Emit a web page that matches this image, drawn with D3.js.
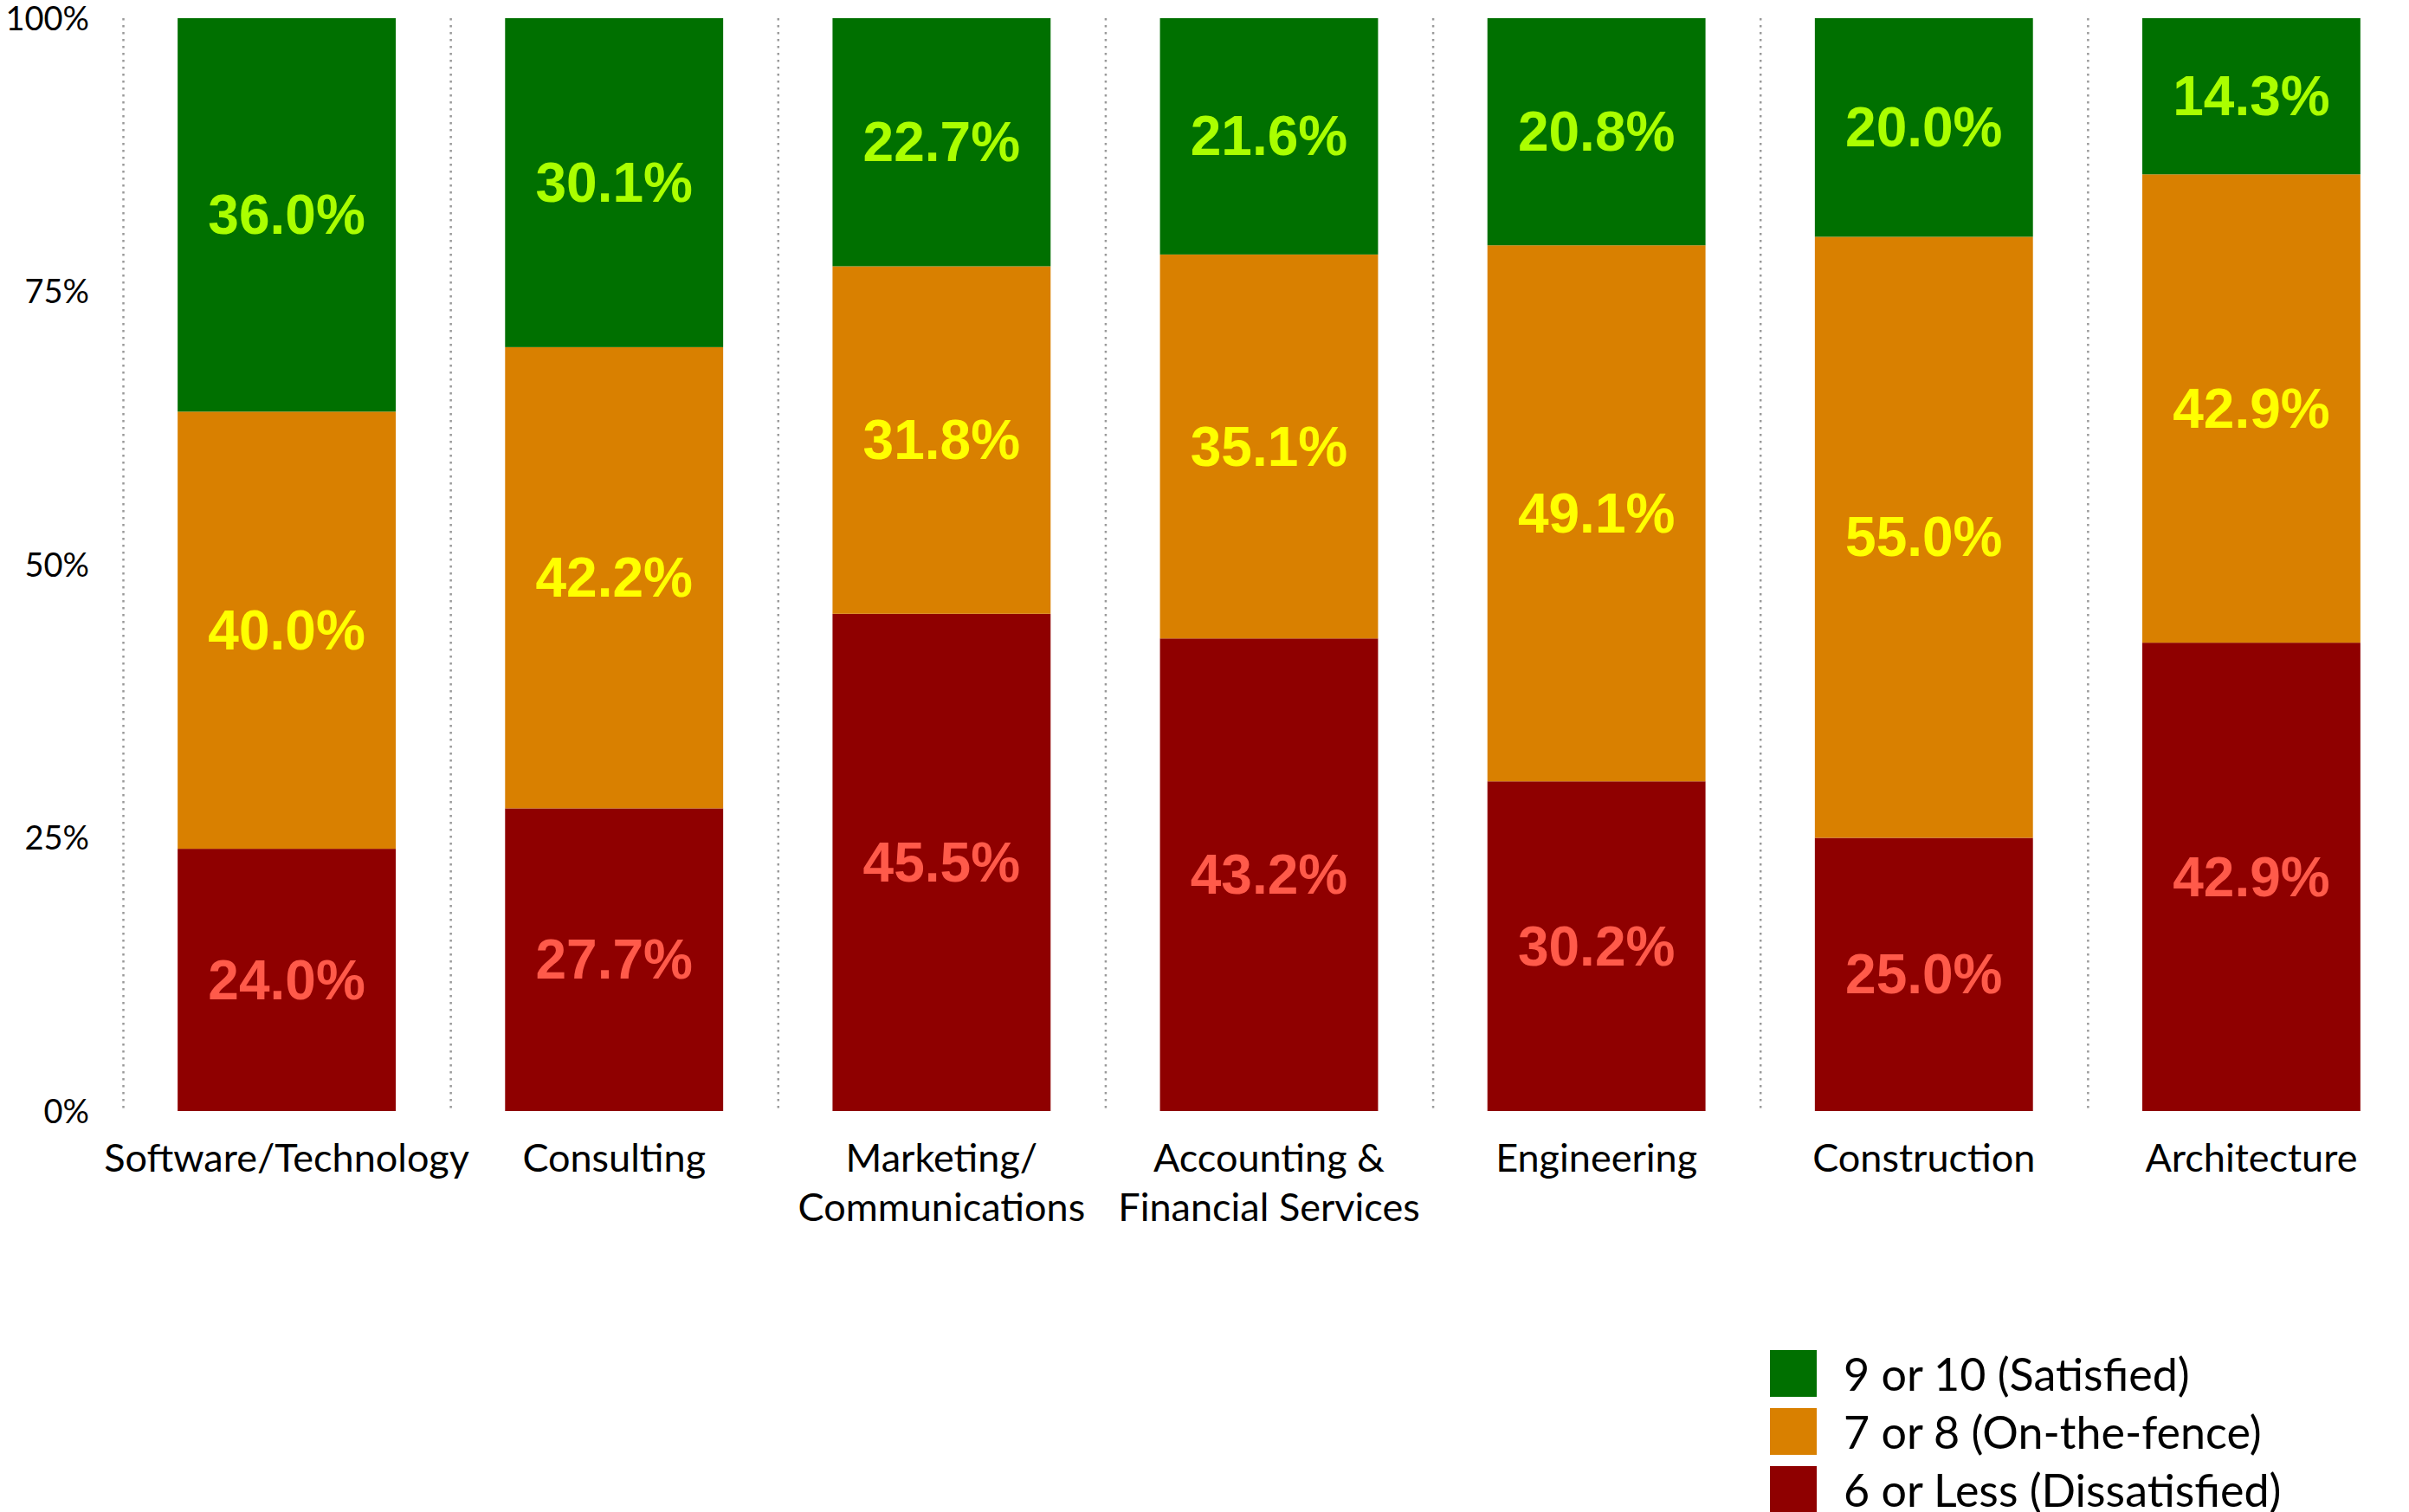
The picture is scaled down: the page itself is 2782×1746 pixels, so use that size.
<!DOCTYPE html>
<html>
<head>
<meta charset="utf-8">
<script src="https://cdn.jsdelivr.net/npm/d3@7"></script>
<style>
  html, body { margin: 0; padding: 0; background: #fff; }
  svg { display: block; }
</style>
</head>
<body>
<svg id="chart" width="2782" height="1746"></svg>
<script>
const categories = [
  ["Software/Technology"],
  ["Consulting"],
  ["Marketing/", "Communications"],
  ["Accounting &", "Financial Services"],
  ["Engineering"],
  ["Construction"],
  ["Architecture"]
];
const seriesNames = ["6 or Less (Dissatisfied)", "7 or 8 (On-the-fence)", "9 or 10 (Satisfied)"];
const dissatisfied = [24.0, 27.7, 45.5, 43.2, 30.2, 25.0, 42.9];
const onTheFence   = [40.0, 42.2, 31.8, 35.1, 49.1, 55.0, 42.9];
const satisfied    = [36.0, 30.1, 22.7, 21.6, 20.8, 20.0, 14.3];
const tickValues = [0, 0.25, 0.5, 0.75, 1];
const tickLabels = ["0%", "25%", "50%", "75%", "100%"];

const barColors = ["#8F0000", "#D98000", "#007000"];
const labelColors = ["#FF5A4A", "#FFFF00", "#AAFF00"];

(function () {
const svg = d3.select("#chart");
const plotTop = 21, plotBottom = 1283;
const plotLeft = 142, plotRight = 2789;

const x = d3.scaleBand()
  .domain(d3.range(categories.length))
  .range([plotLeft, plotRight])
  .paddingInner(0.334)
  .paddingOuter(0.167);
const step = x.step();
const y = d3.scaleLinear().domain([0, 1]).range([plotBottom, plotTop]);

// dotted separators at band starts
svg.append("g").selectAll("line")
  .data(d3.range(categories.length))
  .join("line")
  .attr("x1", i => plotLeft + i * step + 0.5)
  .attr("x2", i => plotLeft + i * step + 0.5)
  .attr("y1", y(1))
  .attr("y2", y(0))
  .attr("stroke", "#9a9a9a")
  .attr("stroke-width", 2.5)
  .attr("stroke-dasharray", "2.5,5.5");

// y axis labels
const yAxis = d3.axisLeft(y).tickValues(tickValues)
  .tickFormat((d, i) => tickLabels[i]).tickSize(0).tickPadding(0);
const ag = svg.append("g").attr("transform", "translate(103,0)").call(yAxis);
ag.select(".domain").remove();
ag.selectAll("text")
  .attr("font-family", "Lato, sans-serif")
  .attr("font-size", 38)
  .attr("fill", "#000")
  .attr("dy", "0.35em");

// stacked data (normalized to each bar's total)
const rows = categories.map((c, i) => [dissatisfied[i], onTheFence[i], satisfied[i]]);
const stacked = d3.stack().keys([0, 1, 2]).offset(d3.stackOffsetExpand)(rows);

const layers = svg.append("g").selectAll("g")
  .data(stacked)
  .join("g")
  .attr("fill", (d, k) => barColors[k]);

layers.selectAll("rect")
  .data(d => d.map((v, i) => ({ v, i })))
  .join("rect")
  .attr("x", d => x(d.i))
  .attr("width", x.bandwidth())
  .attr("y", d => y(d.v[1]))
  .attr("height", d => y(d.v[0]) - y(d.v[1]));

// value labels
const lab = svg.append("g").selectAll("g")
  .data(stacked)
  .join("g")
  .attr("fill", (d, k) => labelColors[k]);

lab.selectAll("text")
  .data((d, k) => d.map((v, i) => ({ v, i, val: rows[i][k] })))
  .join("text")
  .attr("x", d => x(d.i) + x.bandwidth() / 2)
  .attr("y", d => y((d.v[0] + d.v[1]) / 2))
  .attr("text-anchor", "middle")
  .attr("dominant-baseline", "central")
  .attr("font-family", "'Liberation Sans', Arial, sans-serif")
  .attr("font-weight", "bold")
  .attr("font-size", 64)
  .text(d => d.val.toFixed(1) + "%");

// category labels
const cg = svg.append("g").selectAll("text")
  .data(categories)
  .join("text")
  .attr("x", (d, i) => x(i) + x.bandwidth() / 2)
  .attr("y", 1336)
  .attr("text-anchor", "middle")
  .attr("dominant-baseline", "central")
  .attr("font-family", "Lato, sans-serif")
  .attr("font-size", 45)
  .attr("fill", "#000");
cg.selectAll("tspan")
  .data(d => d)
  .join("tspan")
  .attr("x", function() { return this.parentNode.getAttribute("x"); })
  .attr("dy", (d, j) => j === 0 ? 0 : 57)
  .text(d => d);

// legend
const legendItems = [2, 1, 0];
const lg = svg.append("g").selectAll("g")
  .data(legendItems)
  .join("g")
  .attr("transform", (d, j) => `translate(2044, ${1559 + j * 67})`);
lg.append("rect")
  .attr("width", 54)
  .attr("height", 54)
  .attr("fill", k => barColors[k]);
lg.append("text")
  .attr("x", 85)
  .attr("y", 27)
  .attr("dominant-baseline", "central")
  .attr("font-family", "Lato, sans-serif")
  .attr("font-size", 52)
  .attr("fill", "#000")
  .text(k => seriesNames[k]);
})();
</script>
</body>
</html>
